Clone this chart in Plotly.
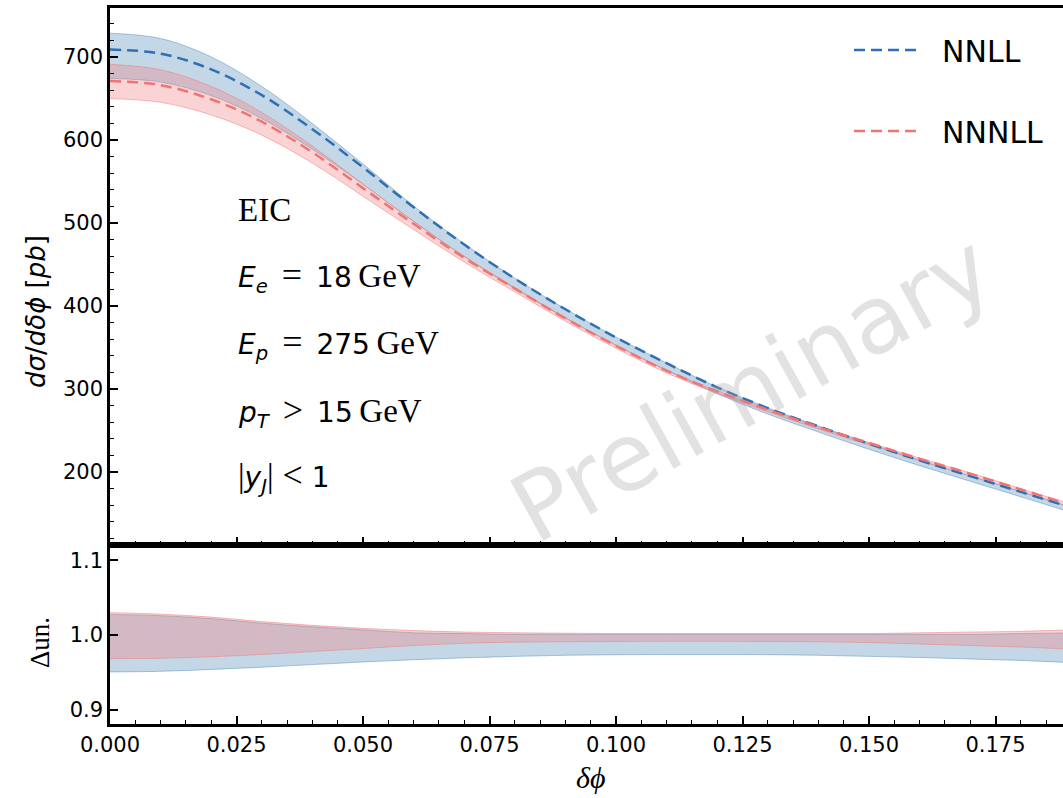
import plotly.graph_objects as go
from plotly.subplots import make_subplots

# ---------------- data ----------------
dphi = [0.00, 0.01, 0.02, 0.03, 0.04, 0.05, 0.06, 0.07, 0.08, 0.09,
        0.10, 0.11, 0.12, 0.13, 0.14, 0.15, 0.16, 0.17, 0.18, 0.19]

nnll_central = [709, 704, 685, 654, 613, 567, 519, 474, 433, 396,
                362, 331, 302, 277, 255, 234, 214, 195, 176, 157]
nnnll_central = [671, 666, 649, 622, 585, 542, 499, 458, 421, 385,
                 352, 322, 297, 275, 254, 235, 216, 198, 179, 160]

# uncertainty bands relative to the own central value (ratio panel)
nnll_up = [1.0276, 1.026, 1.022, 1.016, 1.011, 1.007, 1.003, 1.002, 1.001, 1.001,
           1.001, 1.001, 1.001, 1.001, 1.001, 1.001, 1.001, 1.001, 1.002, 1.003]
nnll_lo = [0.9507, 0.9515, 0.954, 0.957, 0.9605, 0.964, 0.967, 0.9695, 0.9715, 0.973,
           0.9737, 0.974, 0.974, 0.9738, 0.973, 0.9715, 0.970, 0.968, 0.966, 0.963]
nnnll_up = [1.030, 1.028, 1.024, 1.018, 1.013, 1.009, 1.006, 1.004, 1.003, 1.0025,
            1.002, 1.002, 1.002, 1.002, 1.002, 1.002, 1.003, 1.004, 1.005, 1.007]
nnnll_lo = [0.9685, 0.969, 0.971, 0.974, 0.978, 0.982, 0.986, 0.989, 0.9905, 0.991,
            0.9915, 0.9916, 0.9916, 0.9914, 0.991, 0.990, 0.988, 0.986, 0.984, 0.981]

x_ticks = [0.0, 0.025, 0.05, 0.075, 0.1, 0.125, 0.15, 0.175]
x_ticklabels = ["0.000", "0.025", "0.050", "0.075", "0.100", "0.125", "0.150", "0.175"]
y_top_ticks = [200, 300, 400, 500, 600, 700]
y_bot_ticks = [0.9, 1.0, 1.1]
y_bot_ticklabels = ["0.9", "1.0", "1.1"]

# ---------------- styling ----------------
BLUE_LINE = "#2f6fb3"
RED_LINE = "#f07474"
BLUE_FILL = "rgba(70,130,180,0.32)"
BLUE_EDGE = "rgba(70,130,180,0.45)"
RED_FILL = "rgba(240,128,128,0.34)"
RED_EDGE = "rgba(240,128,128,0.55)"

W, H = 1063, 798
ML, MR, MT, MB = 110, 0, 8, 74
PW, PH = W - ML - MR, H - MT - MB


def px(xp):
    return (xp - ML) / PW


def py(yp):
    return (H - MB - yp) / PH


fig = make_subplots(rows=2, cols=1, shared_xaxes=True,
                    row_heights=[0.75, 0.25], vertical_spacing=0)


def band(central, up, lo, fill, edge, row):
    upper = [c * u for c, u in zip(central, up)] if central else up
    lower = [c * l for c, l in zip(central, lo)] if central else lo
    fig.add_trace(go.Scatter(x=dphi, y=upper, mode="lines",
                             line=dict(color=edge, width=1, shape="spline"),
                             showlegend=False, hoverinfo="skip"), row=row, col=1)
    fig.add_trace(go.Scatter(x=dphi, y=lower, mode="lines",
                             line=dict(color=edge, width=1, shape="spline"),
                             fill="tonexty", fillcolor=fill, showlegend=False,
                             hoverinfo="skip"), row=row, col=1)


# top panel
band(nnll_central, nnll_up, nnll_lo, BLUE_FILL, BLUE_EDGE, 1)
band(nnnll_central, nnnll_up, nnnll_lo, RED_FILL, RED_EDGE, 1)
fig.add_trace(go.Scatter(x=dphi, y=nnll_central, mode="lines",
                         name="\u00a0\u00a0NNLL", legendgroup="a",
                         line=dict(color=BLUE_LINE, width=2.5, dash="11px,6px",
                                   shape="spline")),
              row=1, col=1)
fig.add_trace(go.Scatter(x=dphi, y=nnnll_central, mode="lines",
                         name="\u00a0\u00a0NNNLL", legendgroup="b",
                         line=dict(color=RED_LINE, width=2.5, dash="11px,6px",
                                   shape="spline")),
              row=1, col=1)

# ratio panel
band(None, nnll_up, nnll_lo, BLUE_FILL, BLUE_EDGE, 2)
band(None, nnnll_up, nnnll_lo, RED_FILL, RED_EDGE, 2)

axis_common = dict(showline=True, linecolor="black", linewidth=2.5,
                   ticks="inside", tickcolor="black", tickwidth=1.5,
                   ticklen=8, showgrid=False, zeroline=False,
                   tickfont=dict(family="DejaVu Sans", size=21, color="black"))

fig.update_xaxes(**axis_common, range=[0, 0.18834], mirror=True,
                 tickvals=x_ticks, ticktext=x_ticklabels,
                 minor=dict(dtick=0.005, tick0=0, ticks="inside", ticklen=4,
                            tickwidth=1.2, tickcolor="black", showgrid=False))
fig.update_xaxes(showticklabels=False, row=1, col=1)

fig.update_yaxes(**axis_common, row=1, col=1, range=[112, 759],
                 tickvals=y_top_ticks,
                 minor=dict(dtick=20, tick0=0, ticks="inside", ticklen=4,
                            tickwidth=1.2, tickcolor="black", showgrid=False))
fig.update_yaxes(**axis_common, row=2, col=1, range=[0.881, 1.1205],
                 tickvals=y_bot_ticks, ticktext=y_bot_ticklabels)

SERIF = "Liberation Serif"
SANS = "DejaVu Sans"


def ser(t, size=33):
    return f"<span style='font-family:{SERIF};font-size:{size}px'>{t}</span>"


SP = "\u2002"
texts = [
    (210, ser("EIC")),
    (276, "<i>E</i><sub><i>e</i></sub>" + SP + ser("=", 36) + SP + "18" + ser("\u2009GeV")),
    (344, "<i>E</i><sub><i>p</i></sub>" + SP + ser("=", 36) + SP + "275" + ser("\u2009GeV")),
    (411, "<i>p</i><sub><i>T</i></sub>" + SP + ser("&gt;", 36) + SP + "15" + ser("\u2009GeV")),
    (476, ser("|") + "<i>y</i><sub><i>J</i></sub>" + ser("|") + "\u00a0" + ser("&lt;", 36) + "\u00a0" + "1"),
]
for yy, t in texts:
    fig.add_annotation(x=px(236), y=py(yy), xref="paper", yref="paper",
                       text=t, showarrow=False, xanchor="left", yanchor="middle",
                       font=dict(family=SANS, size=28, color="black"))

# watermark
fig.add_annotation(x=px(751), y=py(388), xref="paper", yref="paper",
                   xanchor="center", yanchor="middle",
                   text="Preliminary", showarrow=False, textangle=-29,
                   font=dict(family=SANS, size=94, color="rgba(165,165,165,0.32)"))

# axis titles
fig.add_annotation(x=px(36), y=py(312), xref="paper", yref="paper",
                   xanchor="center", yanchor="middle",
                   text="<i>dσ</i>/<i>dδϕ</i> [<i>pb</i>]", textangle=-90,
                   showarrow=False, font=dict(family=SANS, size=26, color="black"))
fig.add_annotation(x=px(40), y=py(643), xref="paper", yref="paper",
                   xanchor="center", yanchor="middle",
                   text="Δun.", textangle=-90, showarrow=False,
                   font=dict(family=SERIF, size=27, color="black"))
fig.add_annotation(x=px(590), y=py(777), xref="paper", yref="paper",
                   xanchor="center", yanchor="middle",
                   text="<i>δϕ</i>", showarrow=False,
                   font=dict(family=SERIF, size=30, color="black"))

fig.update_layout(
    width=W, height=H,
    margin=dict(l=ML, r=MR, t=MT, b=MB),
    paper_bgcolor="white", plot_bgcolor="white",
    showlegend=True,
    legend=dict(x=px(849), y=py(24), xanchor="left", yanchor="top",
                font=dict(family=SANS, size=30, color="black"),
                bgcolor="rgba(0,0,0,0)", itemwidth=64,
                tracegroupgap=39, traceorder="grouped"),
)

fig.write_html("out.html", config={"displayModeBar": False},
               post_script="document.body.style.margin='0';"
                           "document.body.style.overflow='hidden';")
